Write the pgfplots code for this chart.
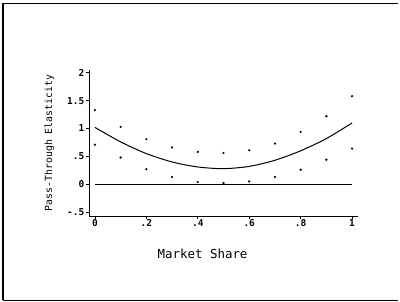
\documentclass[border=0pt]{standalone}
\usepackage{pgfplots}
\pgfplotsset{compat=1.18}
\usepackage{fontspec}
\setmainfont{DejaVu Sans Mono}
\begin{document}
\begin{tikzpicture}[x=1bp,y=1bp]
\useasboundingbox (0,0) rectangle (400,302);
\draw[line width=1.2bp] (3,2) -- (3,299);
\draw[line width=0.8bp] (3,299) -- (398,299);
\draw[line width=0.8bp] (3,2) -- (398,2);
\begin{axis}[
  at={(89bp,86bp)}, anchor=south west,
  scale only axis, width=269bp, height=146bp,
  xmin=-0.023, xmax=1.023, ymin=-0.57, ymax=2.05,
  axis x line*=bottom, axis y line*=left,
  axis line style={-, line width=0.8bp},
  tick align=outside, major tick length=3bp,
  tick style={line width=0.6bp, black},
  xtick={0,0.2,0.4,0.6,0.8,1},
  xticklabels={0,.2,.4,.6,.8,1},
  ytick={-0.5,0,0.5,1,1.5,2},
  yticklabels={-.5,0,.5,1,1.5,2},
  ticklabel style={font=\fontsize{9.5}{10}\selectfont\bfseries, inner sep=1.5bp},
  /pgf/number format/assume math mode=true,
  xticklabel style={yshift=1bp},
  yticklabel style={xshift=0bp},
  xlabel={Market Share},
  ylabel={Pass-Through Elasticity},
  xlabel style={at={(axis description cs:0.422,0)}, anchor=center, yshift=-38bp, font=\fontsize{12.5}{14}\selectfont},
  ylabel style={at={(axis description cs:-0.147,0.5)}, anchor=center, font=\fontsize{9.9}{11}\selectfont},
  clip=false,
]
\addplot[only marks, mark=*, mark size=0.9bp, black] coordinates {
(0,1.33) (0.1,1.03) (0.2,0.81) (0.3,0.66) (0.4,0.58) (0.5,0.56) (0.6,0.61) (0.7,0.73) (0.8,0.94) (0.9,1.22) (1,1.58)
};
\addplot[only marks, mark=*, mark size=0.9bp, black] coordinates {
(0,0.71) (0.1,0.48) (0.2,0.27) (0.3,0.13) (0.4,0.04) (0.5,0.02) (0.6,0.05) (0.7,0.13) (0.8,0.26) (0.9,0.44) (1,0.64)
};
\addplot[black, line width=1bp, smooth] coordinates {
(0,1.02) (0.1,0.76) (0.2,0.55) (0.3,0.40) (0.4,0.31) (0.5,0.28) (0.6,0.32) (0.7,0.43) (0.8,0.60) (0.9,0.82) (1,1.10)
};
\addplot[black, line width=1bp] coordinates {(0,0) (1,0)};
\end{axis}
\end{tikzpicture}
\end{document}
